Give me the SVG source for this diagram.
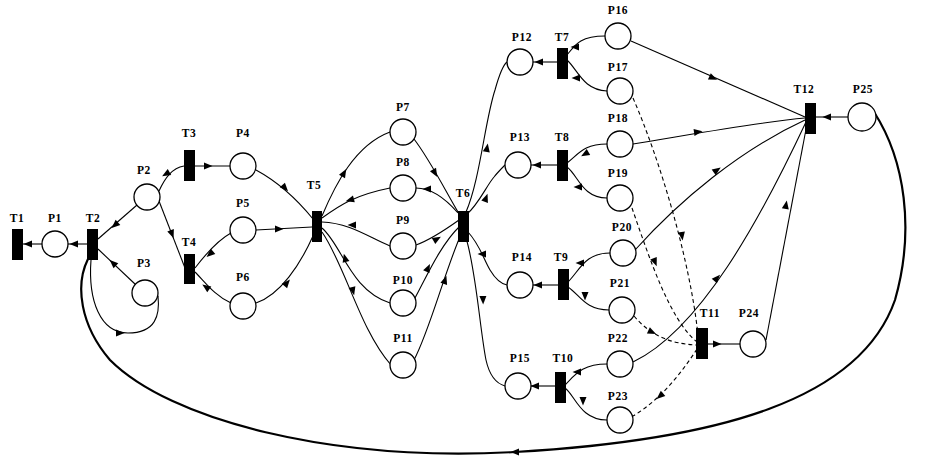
<svg xmlns="http://www.w3.org/2000/svg" width="926" height="462" viewBox="0 0 926 462">
<style>
.pl{fill:#fff;stroke:#000;stroke-width:1.3}
.tr{fill:#000}
.e{fill:none;stroke:#000;stroke-width:1.1}
.d{stroke-dasharray:4 3}
.big{stroke-width:2.2}
.lbl{font-family:"Liberation Serif",serif;font-size:11.5px;font-weight:bold;letter-spacing:0.6px;text-anchor:middle;fill:#000}
</style>
<defs>
<path id="ah" d="M4.5,0 L-4,-3.5 L-4,3.5 Z" fill="#000"/>
</defs>
<rect width="926" height="462" fill="#fff"/>
<g id="connectors">
<path class="e" d="M23,244 L42,244"/>
<path class="e" d="M68,244 L87,244"/>
<path class="e" d="M98,239 L137,205"/>
<path class="e" d="M98,249 L136,285"/>
<path class="e" d="M91,260 C88,300 100,333 128,333 C156,333 160,315 158,296"/>
<path class="e" d="M159,191 C165,178 172,168 184,166"/>
<path class="e" d="M195,166 L230,166"/>
<path class="e" d="M159,201 L185,268"/>
<path class="e" d="M195,268 C205,255 218,240 231,233"/>
<path class="e" d="M195,272 C205,282 215,296 231,303"/>
<path class="e" d="M256,170 C280,183 300,203 313,219"/>
<path class="e" d="M256,230 L312,227"/>
<path class="e" d="M256,303 C280,295 300,265 313,236"/>
<path class="e" d="M322,216 C335,185 355,145 390,132"/>
<path class="e" d="M322,218 C340,205 355,195 390,188"/>
<path class="e" d="M322,222 C350,223 370,238 390,246"/>
<path class="e" d="M322,228 C342,245 350,290 390,303"/>
<path class="e" d="M322,232 C345,265 360,330 391,365"/>
<path class="e" d="M414,139 C430,160 445,190 458,212"/>
<path class="e" d="M416,188 C430,188 445,198 458,213"/>
<path class="e" d="M416,245 C430,240 445,230 459,220"/>
<path class="e" d="M415,298 C425,280 440,245 460,226"/>
<path class="e" d="M414,360 C430,330 445,270 462,232"/>
<path class="e" d="M466,212 C480,180 485,120 495,90 C500,72 503,65 507,62"/>
<path class="e" d="M467,214 C478,205 487,185 494,177 C498,172 502,168 505,165"/>
<path class="e" d="M468,232 C480,245 483,258 490,270 C496,280 502,284 507,285"/>
<path class="e" d="M466,238 C476,270 480,330 486,360 C490,378 498,384 505,386"/>
<path class="e" d="M533,62 L557,62"/>
<path class="e" d="M531,165 L557,165"/>
<path class="e" d="M533,285 L558,285"/>
<path class="e" d="M531,386 L555,386"/>
<path class="e" d="M567,55 C575,45 580,36 605,36"/>
<path class="e" d="M567,60 C578,70 583,90 607,91"/>
<path class="e" d="M567,163 C578,155 583,144 607,144"/>
<path class="e" d="M567,167 C578,175 582,198 607,198"/>
<path class="e" d="M568,282 C580,270 585,253 610,253"/>
<path class="e" d="M568,287 C580,295 585,310 609,310"/>
<path class="e" d="M565,385 C575,375 582,364 607,364"/>
<path class="e" d="M565,388 C575,395 580,420 607,420"/>
<path class="e" d="M848,117 L816,117"/>
<path class="e" d="M631,41 L805,117"/>
<path class="e" d="M633,144 C700,133 760,122 805,118"/>
<path class="e" d="M635,250 C680,200 740,150 805,120"/>
<path class="e" d="M633,362 C700,330 760,220 806,122"/>
<path class="e" d="M766,340 L807,124"/>
<path class="e" d="M708,344 L740,344"/>
<path class="e d" d="M633,98 C660,160 690,260 698,335"/>
<path class="e d" d="M632,208 C650,260 670,320 697,342"/>
<path class="e d" d="M634,316 C650,335 670,344 697,345"/>
<path class="e d" d="M697,349 C680,375 660,400 633,416"/>
<path class="e big" d="M874,112 C905,160 915,230 895,300 C860,400 720,440 515,452 C330,462 170,420 110,360 C80,325 75,285 88,259"/>
<use href="#ah" transform="translate(28,244) rotate(180)"/>
<use href="#ah" transform="translate(74,244) rotate(180)"/>
<use href="#ah" transform="translate(115,225) rotate(138)"/>
<use href="#ah" transform="translate(113,263) rotate(-137)"/>
<use href="#ah" transform="translate(120,333) rotate(0)"/>
<use href="#ah" transform="translate(166,174) rotate(150)"/>
<use href="#ah" transform="translate(208,166) rotate(0)"/>
<use href="#ah" transform="translate(172,234) rotate(69)"/>
<use href="#ah" transform="translate(210,254) rotate(140)"/>
<use href="#ah" transform="translate(206,287) rotate(-145)"/>
<use href="#ah" transform="translate(285,188) rotate(48)"/>
<use href="#ah" transform="translate(279,229) rotate(0)"/>
<use href="#ah" transform="translate(287,283) rotate(-50)"/>
<use href="#ah" transform="translate(344,173) rotate(-60)"/>
<use href="#ah" transform="translate(350,200) rotate(165)"/>
<use href="#ah" transform="translate(352,225) rotate(180)"/>
<use href="#ah" transform="translate(345,258) rotate(-105)"/>
<use href="#ah" transform="translate(353,291) rotate(75)"/>
<use href="#ah" transform="translate(435,173) rotate(60)"/>
<use href="#ah" transform="translate(427,189) rotate(180)"/>
<use href="#ah" transform="translate(437,239) rotate(-30)"/>
<use href="#ah" transform="translate(428,268) rotate(-65)"/>
<use href="#ah" transform="translate(445,280) rotate(-72)"/>
<use href="#ah" transform="translate(487,148) rotate(-80)"/>
<use href="#ah" transform="translate(486,198) rotate(-70)"/>
<use href="#ah" transform="translate(482,254) rotate(180)"/>
<use href="#ah" transform="translate(483,300) rotate(88)"/>
<use href="#ah" transform="translate(539,62) rotate(180)"/>
<use href="#ah" transform="translate(537,165) rotate(180)"/>
<use href="#ah" transform="translate(538,285) rotate(180)"/>
<use href="#ah" transform="translate(535,386) rotate(180)"/>
<use href="#ah" transform="translate(575,47) rotate(180)"/>
<use href="#ah" transform="translate(576,78) rotate(180)"/>
<use href="#ah" transform="translate(585,154) rotate(150)"/>
<use href="#ah" transform="translate(578,187) rotate(180)"/>
<use href="#ah" transform="translate(580,263) rotate(180)"/>
<use href="#ah" transform="translate(585,296) rotate(90)"/>
<use href="#ah" transform="translate(577,372) rotate(180)"/>
<use href="#ah" transform="translate(583,401) rotate(90)"/>
<use href="#ah" transform="translate(827,117) rotate(180)"/>
<use href="#ah" transform="translate(713,78) rotate(24)"/>
<use href="#ah" transform="translate(698,132) rotate(-8)"/>
<use href="#ah" transform="translate(717,170) rotate(-35)"/>
<use href="#ah" transform="translate(717,278) rotate(-48)"/>
<use href="#ah" transform="translate(786,205) rotate(-80)"/>
<use href="#ah" transform="translate(717,344) rotate(0)"/>
<use href="#ah" transform="translate(682,236) rotate(82)"/>
<use href="#ah" transform="translate(655,262) rotate(68)"/>
<use href="#ah" transform="translate(652,332) rotate(25)"/>
<use href="#ah" transform="translate(660,396) rotate(140)"/>
<use href="#ah" transform="translate(515,452) rotate(180)"/>
</g>
<g id="T1"><rect class="tr" x="12" y="229" width="11" height="31"/><text class="lbl" x="17" y="222">T1</text></g>
<g id="P1"><circle class="pl" cx="55" cy="244" r="13"/><text class="lbl" x="55" y="222">P1</text></g>
<g id="T2"><rect class="tr" x="87" y="229" width="11" height="31"/><text class="lbl" x="93" y="222">T2</text></g>
<g id="P2"><circle class="pl" cx="147" cy="197" r="13"/><text class="lbl" x="144" y="174">P2</text></g>
<g id="P3"><circle class="pl" cx="145" cy="293" r="13"/><text class="lbl" x="144" y="267">P3</text></g>
<g id="T3"><rect class="tr" x="184" y="150" width="11" height="31"/><text class="lbl" x="189" y="137">T3</text></g>
<g id="P4"><circle class="pl" cx="243" cy="166" r="13"/><text class="lbl" x="243" y="137">P4</text></g>
<g id="T4"><rect class="tr" x="184" y="254" width="11" height="30"/><text class="lbl" x="189" y="246">T4</text></g>
<g id="P5"><circle class="pl" cx="243" cy="230" r="13"/><text class="lbl" x="243" y="207">P5</text></g>
<g id="P6"><circle class="pl" cx="243" cy="306" r="13"/><text class="lbl" x="243" y="281">P6</text></g>
<g id="T5"><rect class="tr" x="312" y="211" width="10" height="31"/><text class="lbl" x="314" y="189">T5</text></g>
<g id="P7"><circle class="pl" cx="403" cy="132" r="13"/><text class="lbl" x="403" y="111">P7</text></g>
<g id="P8"><circle class="pl" cx="403" cy="188" r="13"/><text class="lbl" x="403" y="166">P8</text></g>
<g id="P9"><circle class="pl" cx="403" cy="246" r="13"/><text class="lbl" x="403" y="224">P9</text></g>
<g id="P10"><circle class="pl" cx="403" cy="303" r="13"/><text class="lbl" x="403" y="284">P10</text></g>
<g id="P11"><circle class="pl" cx="403" cy="365" r="13"/><text class="lbl" x="403" y="342">P11</text></g>
<g id="T6"><rect class="tr" x="458" y="211" width="11" height="31"/><text class="lbl" x="463" y="197">T6</text></g>
<g id="P12"><circle class="pl" cx="520" cy="62" r="13"/><text class="lbl" x="522" y="41">P12</text></g>
<g id="T7"><rect class="tr" x="557" y="48" width="11" height="31"/><text class="lbl" x="562" y="41">T7</text></g>
<g id="P13"><circle class="pl" cx="518" cy="165" r="13"/><text class="lbl" x="520" y="141">P13</text></g>
<g id="T8"><rect class="tr" x="557" y="150" width="11" height="31"/><text class="lbl" x="562" y="141">T8</text></g>
<g id="P14"><circle class="pl" cx="520" cy="285" r="13"/><text class="lbl" x="522" y="261">P14</text></g>
<g id="T9"><rect class="tr" x="558" y="269" width="11" height="31"/><text class="lbl" x="561" y="261">T9</text></g>
<g id="P15"><circle class="pl" cx="518" cy="386" r="13"/><text class="lbl" x="520" y="362">P15</text></g>
<g id="T10"><rect class="tr" x="555" y="372" width="11" height="31"/><text class="lbl" x="563" y="362">T10</text></g>
<g id="P16"><circle class="pl" cx="618" cy="36" r="13"/><text class="lbl" x="618" y="14">P16</text></g>
<g id="P17"><circle class="pl" cx="620" cy="91" r="13"/><text class="lbl" x="618" y="71">P17</text></g>
<g id="P18"><circle class="pl" cx="620" cy="144" r="13"/><text class="lbl" x="618" y="122">P18</text></g>
<g id="P19"><circle class="pl" cx="620" cy="198" r="13"/><text class="lbl" x="618" y="177">P19</text></g>
<g id="P20"><circle class="pl" cx="623" cy="253" r="13"/><text class="lbl" x="622" y="231">P20</text></g>
<g id="P21"><circle class="pl" cx="622" cy="310" r="13"/><text class="lbl" x="620" y="287">P21</text></g>
<g id="P22"><circle class="pl" cx="620" cy="364" r="13"/><text class="lbl" x="618" y="342">P22</text></g>
<g id="P23"><circle class="pl" cx="620" cy="420" r="13"/><text class="lbl" x="618" y="400">P23</text></g>
<g id="T11"><rect class="tr" x="696" y="328" width="12" height="31"/><text class="lbl" x="710" y="317">T11</text></g>
<g id="P24"><circle class="pl" cx="753" cy="344" r="13"/><text class="lbl" x="749" y="317">P24</text></g>
<g id="T12"><rect class="tr" x="805" y="103" width="11" height="31"/><text class="lbl" x="804" y="93">T12</text></g>
<g id="P25"><circle class="pl" cx="862" cy="117" r="14"/><text class="lbl" x="863" y="93">P25</text></g>
</svg>
